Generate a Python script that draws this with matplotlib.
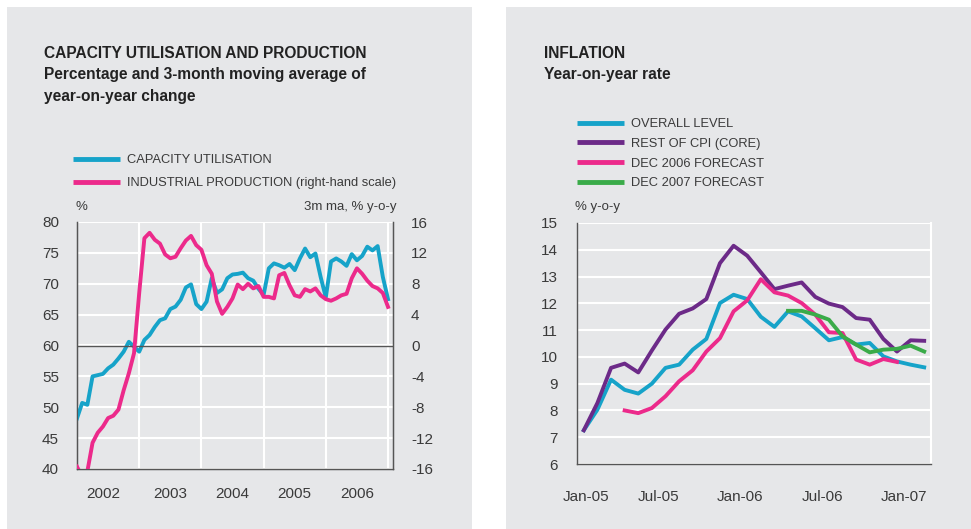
import numpy as np
import matplotlib
matplotlib.use('Agg')
import matplotlib.pyplot as plt
from matplotlib.patches import Rectangle

plt.rcParams['font.family'] = ['Liberation Sans', 'DejaVu Sans']
plt.rcParams['axes.unicode_minus'] = False

# ---- data: left panel (monthly, Jan 2002 - Jan 2007)
cap_util = [48.2, 50.7, 50.4, 55.0, 55.2, 55.4, 56.3, 56.9, 57.9, 59.0,
            60.6, 59.8, 59.0, 60.9, 61.7, 63.0, 64.1, 64.4, 65.9, 66.3,
            67.4, 69.4, 69.9, 66.7, 65.9, 67.1, 70.9, 68.5, 69.1, 70.9,
            71.5, 71.6, 71.8, 70.9, 70.5, 69.2, 68.2, 72.5, 73.3, 73.0,
            72.6, 73.2, 72.2, 74.1, 75.7, 74.3, 74.9, 71.1, 67.8, 73.6,
            74.1, 73.6, 72.9, 74.8, 73.8, 74.5, 76.0, 75.4, 76.1, 71.1, 67.5]
ind_prod = [-15.7, -17.0, -16.3, -12.6, -11.3, -10.5, -9.4, -9.1, -8.3, -5.8,
            -3.6, -1.0, 6.8, 13.9, 14.6, 13.7, 13.2, 11.8, 11.3, 11.5,
            12.6, 13.6, 14.2, 13.0, 12.4, 10.4, 9.3, 5.7, 4.1, 5.0,
            6.1, 7.9, 7.3, 8.0, 7.4, 7.7, 6.3, 6.3, 6.1, 9.1,
            9.4, 7.8, 6.5, 6.3, 7.3, 7.0, 7.4, 6.5, 6.0, 5.8,
            6.1, 6.5, 6.7, 8.7, 10.0, 9.3, 8.4, 7.7, 7.4, 6.8, 5.0]
years = ['2002', '2003', '2004', '2005', '2006']

# ---- data: right panel (monthly, Jan 2005 - Feb 2007)
overall = [7.26, 8.03, 9.15, 8.77, 8.63, 9.0, 9.59, 9.71, 10.27, 10.67,
           12.01, 12.32, 12.16, 11.5, 11.12, 11.7, 11.51, 11.07, 10.62, 10.74,
           10.46, 10.52, 10.02, 9.83, 9.71, 9.61]
core = [7.26, 8.28, 9.59, 9.75, 9.42, 10.24, 11.02, 11.61, 11.81, 12.16,
        13.5, 14.15, 13.78, 13.16, 12.53, 12.66, 12.78, 12.24, 11.99, 11.86,
        11.45, 11.39, 10.67, 10.2, 10.62, 10.6]
fc_dec06 = [None, None, None, 8.0, 7.9, 8.09, 8.53, 9.09, 9.5, 10.2,
            10.7, 11.7, 12.11, 12.9, 12.41, 12.29, 12.01, 11.58, 10.92, 10.89,
            9.9, 9.71, 9.92, 9.81, None, None]
fc_dec07 = [None] * 15 + [11.72, 11.72, 11.58, 11.39, 10.77, 10.46, 10.17,
                          10.27, 10.3, 10.42, 10.2]
month_labels = ['Jan-05', 'Jul-05', 'Jan-06', 'Jul-06', 'Jan-07']

# colours
BG = '#e6e7e9'
BLUE = '#16a3c9'
PINK = '#ec2a8b'
PURPLE = '#6c2a88'
GREEN = '#3aab49'
SPINE = '#555555'
TXT = '#3a3a3a'

W, H = 971, 529
fig = plt.figure(figsize=(W / 100, H / 100), dpi=100)
fig.patch.set_facecolor('white')
for x0 in (7, 506):
    fig.add_artist(Rectangle((x0 / W, 0), 465 / W, 522 / H, transform=fig.transFigure,
                             facecolor=BG, edgecolor='none', zorder=-10))


def px_axes(left, top, right, bottom):
    return fig.add_axes([left / W, 1 - bottom / H, (right - left) / W, (bottom - top) / H])


def style(ax):
    ax.set_facecolor(BG)
    ax.tick_params(which='both', length=0, labelsize=11, labelcolor=TXT)
    ax.spines['top'].set_visible(False)
    for s in ['left', 'bottom', 'right']:
        ax.spines[s].set_color(SPINE)
        ax.spines[s].set_linewidth(1.0)


# ---------------- left panel ----------------
ax1 = px_axes(77, 222, 393, 469)
style(ax1)
t = 2002 + np.arange(len(cap_util)) / 12
ax1.plot(t, cap_util, color=BLUE, lw=2.8, zorder=3)
ax1.set_xlim(2002, 2007.08)
ax1.set_ylim(40, 80)
ax1.set_yticks(np.arange(40, 81, 5))
ax1.set_xticks([2002.42, 2003.5, 2004.5, 2005.5, 2006.5])
ax1.set_xticklabels(years)
ax1.set_xticks([2003, 2004, 2005, 2006, 2007], minor=True)
ax1.grid(axis='y', which='major', color='white', lw=1.5)
ax1.grid(axis='x', which='minor', color='white', lw=1.5)
ax1.set_axisbelow(True)
ax1.tick_params(axis='y', pad=13)
ax1.tick_params(axis='x', pad=13)

ax2 = ax1.twinx()
ax2.spines['top'].set_visible(False)
for s in ['left', 'bottom', 'right']:
    ax2.spines[s].set_color(SPINE)
ax2.tick_params(length=0, labelsize=11, labelcolor=TXT, pad=13)
ax2.axhline(0, color=SPINE, lw=1.0, zorder=2)
ax2.plot(t, ind_prod, color=PINK, lw=2.8, zorder=3)
ax2.set_ylim(-16, 16)
ax2.set_yticks(np.arange(-16, 17, 4))

fig.text(75 / W, 1 - 207 / H, '%', fontsize=9.5, color=TXT, va='center')
fig.text(396 / W, 1 - 207 / H, '3m ma, % y-o-y', fontsize=9.5, color=TXT,
         va='center', ha='right')

fig.text(44 / W, 1 - 53 / H, 'CAPACITY UTILISATION AND PRODUCTION', fontsize=11.2,
         fontweight='bold', color='#222222', va='center')
fig.text(44 / W, 1 - 75 / H, 'Percentage and 3-month moving average of', fontsize=11.2,
         fontweight='bold', color='#222222', va='center')
fig.text(44 / W, 1 - 97 / H, 'year-on-year change', fontsize=11.2,
         fontweight='bold', color='#222222', va='center')

h1, = ax1.plot([], [], color=BLUE, lw=3.5, solid_capstyle='butt')
h2, = ax1.plot([], [], color=PINK, lw=3.5, solid_capstyle='butt')
fig.legend([h1, h2], ['CAPACITY UTILISATION', 'INDUSTRIAL PRODUCTION (right-hand scale)'],
           loc='upper left', bbox_to_anchor=(73 / W, 1 - 154 / H), frameon=False,
           borderpad=0, borderaxespad=0, handlelength=3.6, handletextpad=0.6,
           labelspacing=0.85, prop={'size': 9.3}, labelcolor=TXT)

# ---------------- right panel ----------------
ax3 = px_axes(577, 223, 931, 464)
style(ax3)
ax3.spines['right'].set_color('white')
ax3.spines['right'].set_linewidth(1.5)
m = np.arange(len(overall)) + 0.5
ax3.plot(m, overall, color=BLUE, lw=2.8, zorder=3)
ax3.plot(m, core, color=PURPLE, lw=2.8, zorder=3)
ax3.plot(m, np.array(fc_dec06, dtype=float), color=PINK, lw=2.8, zorder=3)
ax3.plot(m, np.array(fc_dec07, dtype=float), color=GREEN, lw=2.8, zorder=3)
ax3.set_xlim(0, 26)
ax3.set_ylim(6, 15)
ax3.set_yticks(np.arange(6, 16, 1))
ax3.set_xticks([0.7, 6, 12, 18, 24])
ax3.set_xticklabels(month_labels)
ax3.set_xticks([6, 12, 18, 24], minor=True)
ax3.grid(axis='y', which='major', color='white', lw=1.5)
ax3.grid(axis='x', which='minor', color='white', lw=1.5)
ax3.set_axisbelow(True)
ax3.tick_params(axis='y', pad=14)
ax3.tick_params(axis='x', pad=19)

fig.text(575 / W, 1 - 207 / H, '% y-o-y', fontsize=9.5, color=TXT, va='center')

fig.text(544 / W, 1 - 53 / H, 'INFLATION', fontsize=11.2,
         fontweight='bold', color='#222222', va='center')
fig.text(544 / W, 1 - 75 / H, 'Year-on-year rate', fontsize=11.2,
         fontweight='bold', color='#222222', va='center')

hs = []
for c in [BLUE, PURPLE, PINK, GREEN]:
    h, = ax3.plot([], [], color=c, lw=3.5, solid_capstyle='butt')
    hs.append(h)
fig.legend(hs, ['OVERALL LEVEL', 'REST OF CPI (CORE)', 'DEC 2006 FORECAST', 'DEC 2007 FORECAST'],
           loc='upper left', bbox_to_anchor=(577 / W, 1 - 118 / H), frameon=False,
           borderpad=0, borderaxespad=0, handlelength=3.6, handletextpad=0.6,
           labelspacing=0.6, prop={'size': 9.3}, labelcolor=TXT)

plt.savefig('out.png', dpi=100)
